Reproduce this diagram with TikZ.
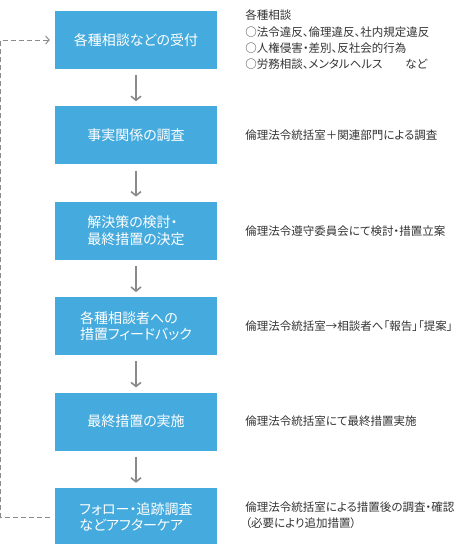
\documentclass[tikz,border=0pt]{standalone}
\usepackage{fontspec}
\setmainfont[RawFeature=+palt]{Noto Sans CJK JP}
\usetikzlibrary{arrows.meta,positioning}
\definecolor{stageblue}{HTML}{45AADD}
\definecolor{arrowgray}{HTML}{8A8A8A}
\definecolor{notegray}{HTML}{333333}
\tikzset{
    stage/.style={rectangle, fill=stageblue, minimum width=162pt, minimum height=58pt, align=left, text=white, font=\fontsize{14pt}{16.5pt}\selectfont, inner sep=0pt},
    note/.style={anchor=west, align=left, inner sep=0pt, text=notegray, font=\fontsize{11.5pt}{16.3pt}\selectfont},
    flow/.style={-{Straight Barb[length=4pt, width=10pt]}, draw=arrowgray, line width=1.6pt, shorten <=6pt, shorten >=5pt},
    feedback/.style={-{Straight Barb[length=3.5pt, width=8pt]}, draw=arrowgray, line width=1pt, dash pattern=on 5pt off 3pt, shorten <=5pt, shorten >=5pt},
}

\begin{document}
\begin{tikzpicture}[x=1pt, y=-1pt, node distance=37pt]
    \useasboundingbox (0,0) rectangle (458,544);
    \node[stage] (s1) at (136,40) {各種相談などの受付};
    \node[stage, below=of s1] (s2) {事実関係の調査};
    \node[stage, below=of s2] (s3) {解決策の検討・\\最終措置の決定};
    \node[stage, below=of s3] (s4) {各種相談者への\\措置フィードバック};
    \node[stage, below=of s4] (s5) {最終措置の実施};
    \node[stage, below=of s5] (s6) {フォロー・追跡調査\\などアフターケア};

    \node[note, right=28pt of s1] (n1) {各種相談\\○法令違反、倫理違反、社内規定違反\\○人権侵害・差別、反社会的行為\\○労務相談、メンタルヘルス　　など};
    \node[note, right=28pt of s2] (n2) {倫理法令統括室＋関連部門による調査};
    \node[note, right=28pt of s3] (n3) {倫理法令遵守委員会にて検討・措置立案};
    \node[note, right=28pt of s4] (n4) {倫理法令統括室→相談者へ「報告」「提案」};
    \node[note, right=28pt of s5] (n5) {倫理法令統括室にて最終措置実施};
    \node[note, right=28pt of s6, yshift=2pt] (n6) {倫理法令統括室による措置後の調査・確認\\（必要により追加措置）};

    \draw[flow] (s1) -- (s2);
    \draw[flow] (s2) -- (s3);
    \draw[flow] (s3) -- (s4);
    \draw[flow] (s4) -- (s5);
    \draw[flow] (s5) -- (s6);
    \draw[feedback] (s6.west) -- ++(-54,0) |- (s1.west);
\end{tikzpicture}
\end{document}
